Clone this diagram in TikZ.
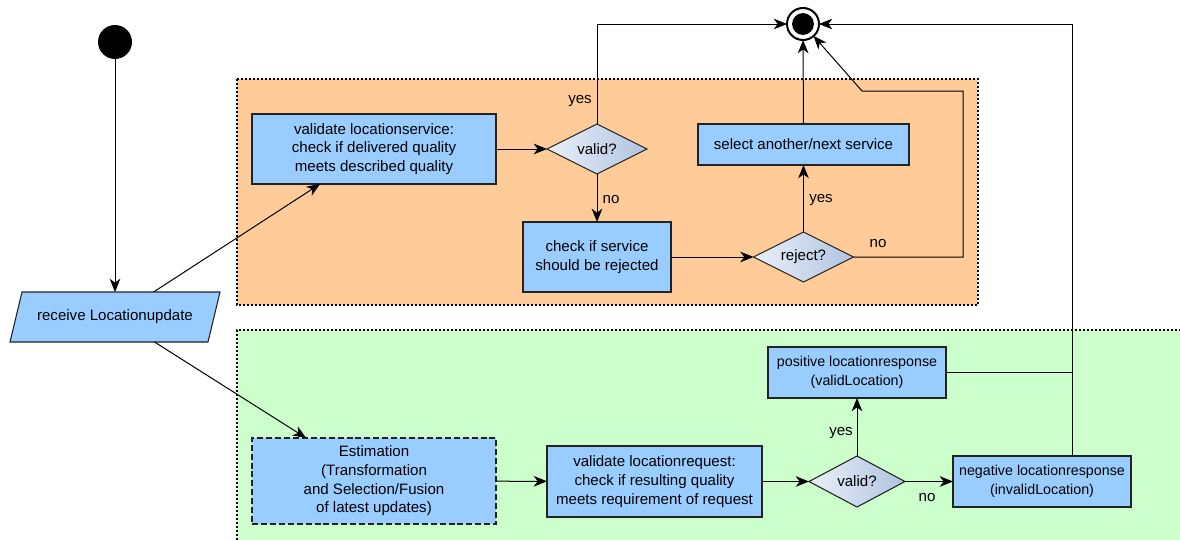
\documentclass[tikz,border=0pt]{standalone}
\usepackage{fontspec}
\setmainfont{Liberation Sans}
\usetikzlibrary{shapes.geometric,arrows.meta,calc}
\definecolor{boxblue}{HTML}{99CCFF}
\definecolor{zoneorange}{HTML}{FFCC99}
\definecolor{zonegreen}{HTML}{CCFFCC}
\definecolor{dialight}{HTML}{EAF0F9}
\definecolor{diadark}{HTML}{B0C3DF}
\definecolor{edge}{HTML}{222222}
\begin{document}
\begin{tikzpicture}[x=0.75pt,y=-0.75pt,
  font=\fontsize{11.3}{14}\selectfont,
  every node/.style={inner sep=0pt, outer sep=0pt},
  sz/.style 2 args={minimum width=#1*0.75pt, minimum height=#2*0.75pt},
  act/.style={rectangle, draw=edge, fill=boxblue, line width=0.8pt, align=center},
  keyact/.style={act, line width=2.2pt},
  estact/.style={act, dash pattern=on 4.5pt off 2.2pt},
  respact/.style={act, font=\fontsize{10.7}{14}\selectfont},
  decision/.style={diamond, draw=edge, line width=0.8pt, shape aspect=2,
    left color=dialight, right color=diadark, sz={100}{50}},
  zone/.style={line width=1.6pt, dash pattern=on 1.5pt off 1.5pt},
  arr/.style={-{Stealth[length=10pt,width=8pt,inset=3pt]}, line width=0.75pt},
  link/.style={line width=0.75pt},
  lbl/.style={font=\fontsize{11.3}{13}\selectfont}
]
\useasboundingbox (0,0) rectangle (1180,539);

% swim zones
\fill[zoneorange] (237,79) rectangle (978,305);
\draw[zone] (237,79) rectangle (978,305);
\fill[zonegreen] (237,330) rectangle (1181,540);
\draw[zone] (237,540) -- (237,330) -- (1181,330);

% start and end states
\node[circle, fill=black, minimum size=25.5pt] (start) at (115,42) {};
\node[circle, draw=black, line width=1.5pt, fill=white, minimum size=24pt] (end) at (803,24) {};
\fill[black] (end.center) circle (8.2pt);

% input
\draw[act] (22,292) -- (220,292) -- (208,342) -- (10,342) -- cycle;
\node[sz={198}{50}] (recv) at (115,317) {receive Locationupdate};

% service validation zone
\node[keyact, sz={244}{70}] (vls) at (374,149)
  {validate locationservice:\\check if delivered quality\\meets described quality};
\node[decision] (vd1) at (597,149) {valid?};
\node[act, sz={148}{70}] (chk) at (597,257) {check if service\\should be rejected};
\node[decision] (rd) at (803.5,257) {reject?};
\node[act, sz={211}{41}] (sel) at (803.5,144.5) {select another/next service};

% request validation zone
\node[estact, sz={244}{86}] (est) at (374,481)
  {Estimation\\(Transformation\\and Selection/Fusion\\of latest updates)};
\node[keyact, sz={215}{71}] (vlr) at (654.5,481.5)
  {validate locationrequest:\\check if resulting quality\\meets requirement of request};
\node[decision, sz={96}{51}] (vd2) at (857,481.5) {valid?};
\node[respact, sz={178}{51}] (pos) at (857,372.5) {positive locationresponse\\(validLocation)};
\node[respact, sz={178}{51}] (neg) at (1042,481.5) {negative locationresponse\\(invalidLocation)};

% routing points
\coordinate (loopc) at (963,91);
\coordinate (bend) at (862,91);
\coordinate (rail) at (1072,372.5);

% connectors
\draw[arr] (start) -- (recv);
\draw[arr] (recv) -- (vls);
\draw[arr] (recv) -- (est);
\draw[arr] (vls) -- (vd1);
\draw[arr] (vd1.north) |- (end);
\draw[arr] (vd1) -- (chk);
\draw[arr] (chk) -- (rd);
\draw[arr] (rd) -- (sel);
\draw[arr] (sel) -- (end);
\draw[arr] (rd.east) -| (loopc) -- (bend) -- (end);
\draw[arr] (est) -- (vlr);
\draw[arr] (vlr) -- (vd2);
\draw[arr] (vd2) -- (pos);
\draw[arr] (vd2) -- (neg);
\draw[link] (pos.east) -- (rail);
\draw[arr] (neg.north -| rail) -- (rail) |- (end);

% branch labels
\node[lbl] (l1) at (580,101) {yes};
\node[lbl] (l2) at (611,200) {no};
\node[lbl] (l3) at (821,200) {yes};
\node[lbl] (l4) at (878,244) {no};
\node[lbl] (l5) at (841,433) {yes};
\node[lbl] (l6) at (927,498) {no};
\end{tikzpicture}
\end{document}
